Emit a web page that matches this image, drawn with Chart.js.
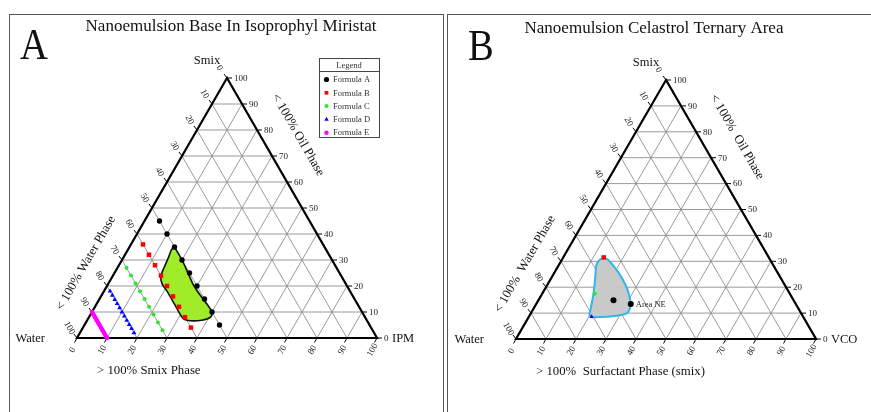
<!DOCTYPE html>
<html>
<head>
<meta charset="utf-8">
<script src="https://cdn.jsdelivr.net/npm/chart.js@4.4.0/dist/chart.umd.min.js"></script>
<style>
body{margin:0;background:#fff;width:871px;height:412px;overflow:hidden;position:relative;}
.panel{position:absolute;top:14px;height:420px;border:1.5px solid #555;border-bottom:none;box-sizing:border-box;}
#panelA{left:9px;width:435px;}
#panelB{left:447px;width:440px;}
canvas{position:absolute;}
</style>
</head>
<body>
<div class="panel" id="panelA"></div>
<div class="panel" id="panelB"></div>
<canvas id="chartA" width="433" height="397" style="left:10px;top:15px"></canvas>
<canvas id="chartB" width="423" height="397" style="left:448px;top:15px"></canvas>
<script>
// axis ticks of the three ternary axes
const tickValues = [0, 10, 20, 30, 40, 50, 60, 70, 80, 90, 100];
const gridValues = [10, 20, 30, 40, 50, 60, 70, 80, 90];

// Panel A : each formula is a line of constant water %, points given by Smix %
const formulaLabels = ['Formula A', 'Formula B', 'Formula C', 'Formula D', 'Formula E'];
const formulaWater = [50, 60, 70, 80, 90];
const formulaASmix = [45, 40, 35, 30, 25, 20, 15, 10, 5];
const formulaBSmix = [36, 32, 28, 24, 20, 16, 12, 8, 4];
const formulaCSmix = [27, 24, 21, 18, 15, 12, 9, 6, 3];
const formulaDSmix = [18, 16.4, 14.8, 13.2, 11.6, 10, 8.4, 6.8, 5.2, 3.6, 2];
const formulaESmix = [10, 9, 8, 7, 6, 5, 4, 3, 2, 1, 0];
const formulaColors = ['#000000', '#ff0000', '#22ee22', '#0000ff', '#ff00ff'];
const formulaStyles = ['circle', 'rect', 'circle', 'triangle', 'circle'];
const formulaRadius = [2.7, 3.2, 2, 2.8, 2.2];

// nanoemulsion region of panel A (water %, Smix %)
const regionAWater = [50, 50, 50.5, 51, 50.5, 50, 51.5, 55, 60, 61, 61, 61, 61.2, 60, 57.5, 54, 51.5, 50];
const regionASmix  = [35, 30, 25, 20, 15, 10, 8, 6.8, 6.8, 8, 12, 18, 21, 24, 27, 31, 34, 35];

// Panel B : celastrol area (water %, Smix %)
const regionBWater = [57, 55, 54, 53.2, 52.9, 53.3, 54.6, 56, 58, 62, 67.5, 70.4, 70.8, 68.7, 65.3, 61.5, 58.9, 57];
const regionBSmix  = [30.5, 31.4, 30.5, 27.3, 23.5, 19, 14.5, 12, 10, 9, 8.5, 8.5, 9.4, 12.5, 17.7, 24.1, 28.6, 30.5];
const pointBWater  = [55, 65, 70.5, 60, 55];
const pointBSmix   = [31.5, 17.5, 8.6, 15, 13.5];
const pointBColors = ['#ff0000', '#22ee22', '#0000ff', '#000000', '#000000'];
const pointBStyles = ['rect', 'circle', 'triangle', 'circle', 'circle'];
const pointBRadius = [3.2, 2, 2.6, 3, 3];
const pointBLabels = ['', '', '', '', 'Area NE'];

const H = Math.sqrt(3) / 2;
// water, smix -> cartesian, oil is the rest
function tern(water, smix) {
  const oil = 100 - water - smix;
  return { x: oil + smix / 2, y: smix * H };
}

const SERIF = '"Liberation Serif", "DejaVu Serif", serif';

function rotText(ctx, txt, x, y, deg) {
  ctx.save();
  ctx.translate(x, y);
  ctx.rotate(deg * Math.PI / 180);
  ctx.fillText(txt, 0, 0);
  ctx.restore();
}

const ternaryPlugin = {
  id: 'ternary',
  beforeDatasetsDraw(chart, args, o) {
    const ctx = chart.ctx, xs = chart.scales.x, ys = chart.scales.y;
    const P = (w, s) => { const p = tern(w, s); return [xs.getPixelForValue(p.x), ys.getPixelForValue(p.y)]; };
    const line = (a, b) => { ctx.beginPath(); ctx.moveTo(a[0], a[1]); ctx.lineTo(b[0], b[1]); ctx.stroke(); };
    ctx.save();
    ctx.strokeStyle = '#8e8e8e';
    ctx.lineWidth = 0.9;
    gridValues.forEach(v => {
      line(P(100 - v, v), P(0, v));       // smix constant
      line(P(v, 100 - v), P(v, 0));       // water constant
      line(P(0, 100 - v), P(100 - v, 0)); // oil constant
    });
    // ticks + labels
    ctx.strokeStyle = '#000';
    ctx.lineWidth = 1;
    ctx.fillStyle = '#222';
    ctx.font = '9px ' + SERIF;
    ctx.textBaseline = 'middle';
    tickValues.forEach(v => {
      const r = P(0, v);
      line(r, [r[0] + 5, r[1]]);
      ctx.textAlign = 'left';
      ctx.fillText(String(v), r[0] + 7, r[1] + 0.5);
      ctx.textAlign = 'center';
      const l = P(v, 100 - v);
      line(l, [l[0] - 3, l[1] - 4]);
      rotText(ctx, String(v), l[0] - 7.5, l[1] - 10, 60);
      const b = P(100 - v, 0);
      line(b, [b[0] - 2.5, b[1] + 4.5]);
      rotText(ctx, String(v), b[0] - 4.5, b[1] + 12, -60);
    });
    // triangle edges
    ctx.strokeStyle = '#000';
    ctx.lineWidth = 2.2;
    ctx.lineJoin = 'miter';
    const t = P(0, 100), bl = P(100, 0), br = P(0, 0);
    ctx.beginPath();
    ctx.moveTo(t[0], t[1]); ctx.lineTo(bl[0], bl[1]); ctx.lineTo(br[0], br[1]); ctx.closePath();
    ctx.stroke();
    ctx.restore();
  },
  afterDatasetsDraw(chart) {
    const ctx = chart.ctx;
    chart.data.datasets.forEach((ds, i) => {
      if (!ds.pointLabels) return;
      const meta = chart.getDatasetMeta(i);
      ctx.save();
      ctx.font = '8.5px ' + SERIF;
      ctx.fillStyle = '#222';
      ctx.textAlign = 'left';
      ctx.textBaseline = 'middle';
      meta.data.forEach((pt, j) => {
        if (ds.pointLabels[j]) ctx.fillText(ds.pointLabels[j], pt.x + 5, pt.y + 1);
      });
      ctx.restore();
    });
  },
  afterDraw(chart, args, o) {
    const ctx = chart.ctx, xs = chart.scales.x, ys = chart.scales.y;
    const P = (w, s) => { const p = tern(w, s); return [xs.getPixelForValue(p.x), ys.getPixelForValue(p.y)]; };
    const t = P(0, 100), bl = P(100, 0), br = P(0, 0);
    ctx.save();
    ctx.fillStyle = '#111';
    ctx.textBaseline = 'alphabetic';
    ctx.textAlign = 'left';
    // big panel letter
    ctx.save();
    ctx.translate(o.letterX, o.letterY);
    ctx.scale(0.86, 1);
    ctx.font = '45px ' + SERIF;
    ctx.fillText(o.letter, 0, 0);
    ctx.restore();
    ctx.textBaseline = 'middle';
    ctx.textAlign = 'center';
    ctx.font = '17px ' + SERIF;
    ctx.fillText(o.title, o.titleX, o.titleY);
    ctx.font = '12.5px ' + SERIF;
    ctx.fillText('Smix', t[0] - 20, t[1] - 17);
    ctx.textAlign = 'right';
    ctx.fillText('Water', bl[0] - 32, bl[1] + 1);
    ctx.textAlign = 'left';
    ctx.font = '12.5px ' + SERIF;
    ctx.fillText(o.rightVertex, br[0] + 15, br[1] + 1);
    ctx.font = '12.8px ' + SERIF;
    ctx.fillText(o.bottomTitle, bl[0] + 20, bl[1] + 33);
    ctx.textAlign = 'center';
    rotText(ctx, o.leftTitle, bl[0] + 9, bl[1] - 75, -60);
    rotText(ctx, o.rightTitle, t[0] + 71, t[1] + 57, 60);
    // legend box
    if (o.legend) {
      const L = o.legend;
      ctx.fillStyle = '#fff';
      ctx.fillRect(L.x, L.y, L.w, L.h);
      ctx.strokeStyle = '#444';
      ctx.lineWidth = 1;
      ctx.strokeRect(L.x + 0.5, L.y + 0.5, L.w, L.h);
      ctx.beginPath();
      ctx.moveTo(L.x, L.y + 13.5); ctx.lineTo(L.x + L.w, L.y + 13.5);
      ctx.stroke();
      ctx.font = '8.5px ' + SERIF;
      ctx.fillStyle = '#333';
      ctx.textAlign = 'center';
      ctx.fillText('Legend', L.x + L.w / 2, L.y + 7.5);
      ctx.textAlign = 'left';
      let k = 0;
      chart.data.datasets.forEach(ds => {
        if (!ds.inLegend) return;
        const yy = L.y + 21.5 + k * 13.3;
        ctx.fillStyle = ds.backgroundColor;
        Chart.helpers.drawPoint(ctx, { pointStyle: ds.pointStyle, radius: Math.min(ds.pointRadius, 2.6), rotation: 0, borderWidth: 0 }, L.x + 7.5, yy);
        ctx.fillStyle = '#333';
        ctx.fillText(ds.label, L.x + 14, yy + 0.5);
        k++;
      });
    }
    ctx.restore();
  }
};

const baseScales = {
  x: { type: 'linear', min: 0, max: 100, display: false },
  y: { type: 'linear', min: 0, max: 100 * H, display: false }
};

// ---------- Panel A ----------
const formulaSmix = [formulaASmix, formulaBSmix, formulaCSmix, formulaDSmix, formulaESmix];
const dsA = formulaSmix.map((arr, i) => ({
  label: formulaLabels[i],
  inLegend: true,
  data: arr.map(s => tern(formulaWater[i], s)),
  pointStyle: formulaStyles[i],
  pointRadius: formulaRadius[i],
  backgroundColor: formulaColors[i],
  borderColor: formulaColors[i],
  borderWidth: i === 4 ? 4 : 0,
  pointBorderWidth: 0,
  showLine: i === 4,
  clip: false
}));
dsA.push({
  label: 'region',
  data: regionAWater.map((w, j) => tern(w, regionASmix[j])),
  showLine: true,
  tension: 0.3,
  fill: 'shape',
  backgroundColor: 'rgb(160,236,40)',
  borderColor: '#111',
  borderWidth: 1.6,
  pointRadius: 0,
  clip: false
});

new Chart(document.getElementById('chartA'), {
  type: 'scatter',
  data: { datasets: dsA },
  options: {
    responsive: false,
    animation: false,
    events: [],
    layout: { padding: { left: 67, right: 66, top: 63, bottom: 74 } },
    scales: baseScales,
    plugins: {
      legend: { display: false },
      tooltip: { enabled: false },
      ternary: {
        letter: 'A', letterX: 10, letterY: 44,
        title: 'Nanoemulsion Base In Isoprophyl Miristat', titleX: 221, titleY: 12,
        rightVertex: 'IPM',
        bottomTitle: '> 100% Smix Phase',
        leftTitle: '< 100% Water Phase',
        rightTitle: '< 100% Oil Phase',
        legend: { x: 309, y: 43, w: 60, h: 79 }
      }
    }
  },
  plugins: [ternaryPlugin]
});

// ---------- Panel B ----------
const dsB = [{
  label: 'points',
  data: pointBWater.map((w, j) => tern(w, pointBSmix[j])),
  pointStyle: pointBStyles,
  pointRadius: pointBRadius,
  backgroundColor: pointBColors,
  borderWidth: 0,
  pointLabels: pointBLabels,
  clip: false
}, {
  label: 'area',
  data: regionBWater.map((w, j) => tern(w, regionBSmix[j])),
  showLine: true,
  tension: 0.35,
  fill: 'shape',
  backgroundColor: '#c9c9c9',
  borderColor: '#2fb6ea',
  borderWidth: 2,
  pointRadius: 0,
  clip: false
}];

new Chart(document.getElementById('chartB'), {
  type: 'scatter',
  data: { datasets: dsB },
  options: {
    responsive: false,
    animation: false,
    events: [],
    layout: { padding: { left: 68, right: 55, top: 65, bottom: 73 } },
    scales: baseScales,
    plugins: {
      legend: { display: false },
      tooltip: { enabled: false },
      ternary: {
        letter: 'B', letterX: 20, letterY: 45,
        title: 'Nanoemulsion Celastrol Ternary Area', titleX: 206, titleY: 14,
        rightVertex: 'VCO',
        bottomTitle: '> 100%  Surfactant Phase (smix)',
        leftTitle: '< 100%  Water Phase',
        rightTitle: '< 100%  Oil Phase',
        legend: null
      }
    }
  },
  plugins: [ternaryPlugin]
});
</script>
</body>
</html>
